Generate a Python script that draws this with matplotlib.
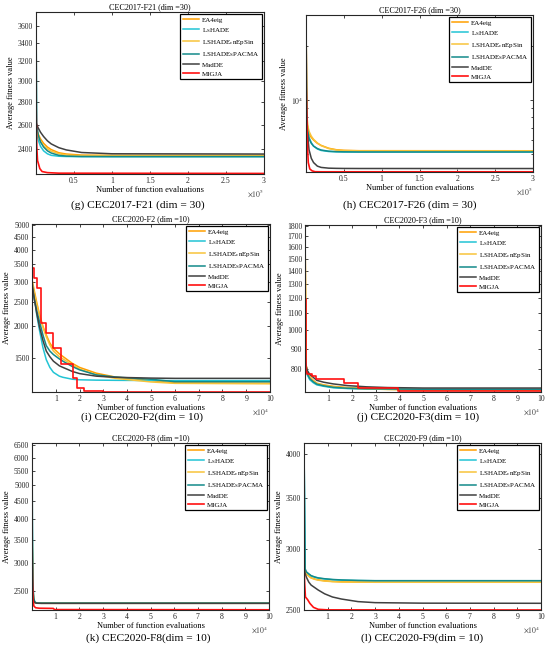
import matplotlib
matplotlib.use('Agg')
from matplotlib import pyplot as plt
from matplotlib.ticker import FixedLocator, NullLocator, NullFormatter, LogLocator, FuncFormatter

plt.rcParams['font.family'] = ['Liberation Serif', 'DejaVu Serif']
plt.rcParams['mathtext.fontset'] = 'stix'

names = ['EA4eig', 'L$_\\mathregular{S}$HADE', 'LSHADE$_\\mathregular{c}$nEpSin',
         'LSHADE$_\\mathregular{S}$PACMA', 'MadDE', 'MIGJA']
colors = ['#FF9F00', '#22C4D4', '#F8C33A', '#138A8A', '#404040', '#FF1010']

# (g) CEC2017-F21
g_x = [0, 1000, 3000, 6000, 10000, 15000, 20000, 30000, 40000, 60000, 100000, 300000]
g_ea4eig = [2580, 2555, 2520, 2480, 2445, 2415, 2395, 2370, 2360, 2352, 2350, 2350]
g_lshade = [2560, 2525, 2470, 2420, 2385, 2362, 2350, 2343, 2341, 2340, 2340, 2340]
g_cnepsin = [2570, 2540, 2500, 2460, 2425, 2400, 2382, 2362, 2352, 2346, 2345, 2345]
g_spacma = [3750, 2600, 2510, 2455, 2415, 2385, 2368, 2350, 2344, 2341, 2340, 2340]
g_madde = [2620, 2600, 2570, 2535, 2500, 2465, 2440, 2410, 2392, 2372, 2362, 2360]
g_migja_x = [0, 500, 1000, 2000, 3000, 5000, 8000, 15000, 30000, 300000]
g_migja = [2850, 2600, 2420, 2310, 2290, 2250, 2228, 2220, 2216, 2214]

# (h) CEC2017-F26
h_x = [0, 1000, 2000, 4000, 7000, 10000, 15000, 20000, 30000, 40000, 50000, 70000, 300000]
h_ea4eig = [29000, 9000, 7200, 6500, 6200, 6000, 5750, 5600, 5400, 5300, 5260, 5235, 5230]
h_lshade = [12000, 8000, 6900, 6200, 5800, 5550, 5350, 5250, 5180, 5160, 5150, 5150, 5150]
h_cnepsin = [29500, 8800, 7300, 6700, 6300, 6050, 5780, 5580, 5380, 5280, 5240, 5225, 5225]
h_spacma = [10000, 7600, 6700, 6100, 5750, 5550, 5380, 5280, 5200, 5170, 5160, 5150, 5150]
h_madde = [29000, 9000, 6500, 5300, 4750, 4500, 4300, 4230, 4190, 4180, 4175, 4172, 4170]
h_migja_x = [0, 1000, 2000, 3000, 5000, 8000, 12000, 20000, 300000]
h_migja = [13100, 8000, 5500, 4500, 4150, 4050, 4005, 4000, 4000]

# (i) CEC2020-F2
i_x = [0, 1000, 2000, 3200, 4600, 6000, 7500, 9000, 11500, 13000, 17000, 20000, 27000,
       35000, 50000, 60000, 100000]
i_ea4eig = [3050, 2750, 2480, 2220, 2000, 1850, 1720, 1640, 1560, 1523, 1430, 1380, 1310,
            1265, 1225, 1200, 1196]
i_lshade = [3000, 2600, 2220, 1920, 1650, 1480, 1380, 1320, 1275, 1262, 1240, 1234, 1230,
            1228, 1226, 1225, 1225]
i_cnepsin = [2950, 2700, 2430, 2200, 1980, 1820, 1690, 1600, 1520, 1490, 1410, 1360, 1290,
             1250, 1210, 1195, 1190]
i_spacma = [2900, 2550, 2300, 2080, 1850, 1680, 1600, 1550, 1490, 1460, 1390, 1350, 1290,
            1265, 1240, 1213, 1212]
i_madde = [2950, 2550, 2250, 1980, 1760, 1600, 1520, 1460, 1400, 1380, 1330, 1305, 1275,
           1262, 1253, 1250, 1250]
i_migja_x = [0, 1000, 2000, 3900, 6000, 8800, 12300, 17260, 19000, 22000, 30000, 100000]
i_migja = [3400, 3100, 2830, 2060, 1890, 1650, 1420, 1250, 1143, 1115, 1108, 1108]

# (j) CEC2020-F3
j_x = [0, 500, 1000, 2000, 3500, 5000, 8000, 12000, 18000, 26000, 35000, 50000, 100000]
j_ea4eig = [1800, 820, 790, 768, 752, 740, 733, 727, 722, 718, 715, 713, 712]
j_lshade = [900, 800, 775, 755, 742, 733, 727, 721, 718, 716, 715, 714, 714]
j_cnepsin = [1810, 815, 785, 765, 750, 738, 731, 725, 720, 717, 714, 712, 711]
j_spacma = [880, 805, 780, 760, 746, 736, 729, 723, 719, 717, 716, 715, 715]
j_madde = [850, 815, 795, 778, 765, 752, 744, 737, 730, 725, 722, 720, 720]
j_migja_x = [0, 300, 1000, 2800, 4700, 16700, 22600, 39600, 100000]
j_migja = [1190, 790, 780, 770, 756, 740, 722, 708, 708]

# (k) CEC2020-F8
k_x = [0, 300, 700, 1200, 2000, 4000, 100000]
k_ea4eig = [4200, 2600, 2360, 2315, 2304, 2302, 2302]
k_lshade = [5000, 2650, 2370, 2318, 2305, 2302, 2302]
k_cnepsin = [4000, 2580, 2350, 2312, 2303, 2301, 2301]
k_spacma = [6600, 2700, 2380, 2320, 2306, 2303, 2303]
k_madde = [3800, 2560, 2340, 2310, 2302, 2300, 2300]
k_migja_x = [0, 150, 400, 800, 1500, 3000, 9000, 9500, 100000]
k_migja = [3480, 2700, 2350, 2260, 2235, 2228, 2225, 2208, 2205]

# (l) CEC2020-F9
l_x = [0, 500, 1000, 2000, 3000, 4500, 6000, 8700, 12000, 15800, 22800, 30000, 50000, 100000]
l_ea4eig = [2900, 2810, 2790, 2770, 2755, 2745, 2738, 2730, 2725, 2722, 2720, 2719, 2719, 2719]
l_lshade = [4135, 2820, 2800, 2785, 2770, 2760, 2752, 2745, 2739, 2735, 2732, 2730, 2730, 2730]
l_cnepsin = [2950, 2805, 2785, 2768, 2753, 2742, 2735, 2728, 2723, 2720, 2719, 2718, 2718, 2718]
l_spacma = [4135, 2830, 2805, 2788, 2773, 2762, 2754, 2747, 2741, 2737, 2733, 2731, 2731, 2731]
l_madde = [2840, 2790, 2760, 2720, 2695, 2675, 2655, 2625, 2600, 2584, 2564, 2556, 2552, 2551]
l_migja_x = [0, 300, 600, 1500, 2500, 4000, 6000, 10000, 100000]
l_migja = [2850, 2700, 2600, 2580, 2550, 2520, 2505, 2501, 2500]

W, H = 550, 651
fig = plt.figure(figsize=(W / 100, H / 100), dpi=100)


def panel(box, title, caption, cap_xy, x, series, mx, my, steps, xmax, ylim, yticks, ylabels):
    l, t, r, b = box
    ax = fig.add_axes([l / W, 1 - b / H, (r - l) / W, (b - t) / H])
    for ys, c in zip(series, colors[:5]):
        ax.plot(x, ys, color=c, lw=1.1)
    ax.plot(mx, my, color=colors[5], lw=1.2, drawstyle='steps-post' if steps else 'default')
    ax.set_yscale('log')
    ax.set_xlim(0, xmax)
    ax.set_ylim(*ylim)
    ax.yaxis.set_major_locator(FixedLocator(yticks))
    ax.yaxis.set_major_formatter(FuncFormatter(lambda v, p: ylabels[yticks.index(v)] if v in yticks else ''))
    ax.yaxis.set_minor_locator(NullLocator())
    sc = 1e5 if xmax > 1e5 else 1e4
    if sc == 1e5:
        xt = [0.5e5, 1e5, 1.5e5, 2e5, 2.5e5, 3e5]
        xl = ['0.5', '1', '1.5', '2', '2.5', '3']
    else:
        xt = [k * 1e4 for k in range(1, 11)]
        xl = [str(k) for k in range(1, 11)]
    ax.set_xticks(xt)
    ax.set_xticklabels(xl)
    ax.tick_params(direction='in', top=True, right=True, length=2.5, width=0.6,
                   labelsize=5.6, pad=2, colors='#262626')
    for s in ax.spines.values():
        s.set_color('#262626')
        s.set_linewidth(0.8)
    ax.set_title(title, fontsize=5.9, pad=2)
    ax.set_xlabel('Number of function evaluations', fontsize=6, labelpad=1)
    ax.set_ylabel('Average fitness value', fontsize=6, labelpad=2)
    ax.annotate('$\\times10^{%d}$' % (5 if sc == 1e5 else 4), xy=(1, 0), xycoords='axes fraction',
                xytext=(0, -14), textcoords='offset points', ha='right', va='center',
                fontsize=5.6, color='#404040')
    leg = ax.legend(names, loc='upper right', fontsize=5, handlelength=2.3, handletextpad=0.4,
                    labelspacing=0.45, borderaxespad=0.35, fancybox=False, framealpha=1,
                    borderpad=0.35)
    leg.get_frame().set_edgecolor('black')
    leg.get_frame().set_linewidth(0.9)
    fig.text(cap_xy[0] / W, 1 - cap_xy[1] / H, caption, ha='center', va='center', fontsize=8.2)
    return ax


panel((36, 12, 264, 174), 'CEC2017-F21 (dim =30)', '(g) CEC2017-F21 (dim = 30)', (138, 205),
      g_x, [g_ea4eig, g_lshade, g_cnepsin, g_spacma, g_madde], g_migja_x, g_migja, False,
      3e5, (2210, 3766), [2400, 2600, 2800, 3000, 3200, 3400, 3600],
      ['2400', '2600', '2800', '3000', '3200', '3400', '3600'])

axh = panel((306, 15, 533, 172), 'CEC2017-F26 (dim =30)', '(h) CEC2017-F26 (dim = 30)', (410, 205),
            h_x, [h_ea4eig, h_lshade, h_cnepsin, h_spacma, h_madde], h_migja_x, h_migja, False,
            3e5, (3990, 29500), [1e4], ['$10^4$'])
axh.yaxis.set_minor_locator(LogLocator(base=10, subs=range(2, 10)))
axh.yaxis.set_minor_formatter(NullFormatter())
axh.tick_params(which='minor', direction='in', right=True, length=1.5, width=0.5)

panel((32, 224, 270, 392), 'CEC2020-F2 (dim =10)', '(i) CEC2020-F2(dim = 10)', (142, 417),
      i_x, [i_ea4eig, i_lshade, i_cnepsin, i_spacma, i_madde], i_migja_x, i_migja, True,
      1e5, (1105, 5045), [1500, 2000, 2500, 3000, 3500, 4000, 4500, 5000],
      ['1500', '2000', '2500', '3000', '3500', '4000', '4500', '5000'])

panel((305, 225, 541, 392), 'CEC2020-F3 (dim =10)', '(j) CEC2020-F3(dim = 10)', (418, 417),
      j_x, [j_ea4eig, j_lshade, j_cnepsin, j_spacma, j_madde], j_migja_x, j_migja, True,
      1e5, (704, 1814), [800, 900, 1000, 1100, 1200, 1300, 1400, 1500, 1600, 1700, 1800],
      ['800', '900', '1000', '1100', '1200', '1300', '1400', '1500', '1600', '1700', '1800'])

panel((32, 443, 269, 610), 'CEC2020-F8 (dim =10)', '(k) CEC2020-F8(dim = 10)', (148, 638),
      k_x, [k_ea4eig, k_lshade, k_cnepsin, k_spacma, k_madde], k_migja_x, k_migja, False,
      1e5, (2202, 6600), [2500, 3000, 3500, 4000, 4500, 5000, 5500, 6000, 6500],
      ['2500', '3000', '3500', '4000', '4500', '5000', '5500', '6000', '6500'])

panel((304, 443, 541, 610), 'CEC2020-F9 (dim =10)', '(l) CEC2020-F9(dim = 10)', (422, 638),
      l_x, [l_ea4eig, l_lshade, l_cnepsin, l_spacma, l_madde], l_migja_x, l_migja, False,
      1e5, (2500, 4135), [2500, 3000, 3500, 4000], ['2500', '3000', '3500', '4000'])

fig.savefig('out.png', dpi=100)
